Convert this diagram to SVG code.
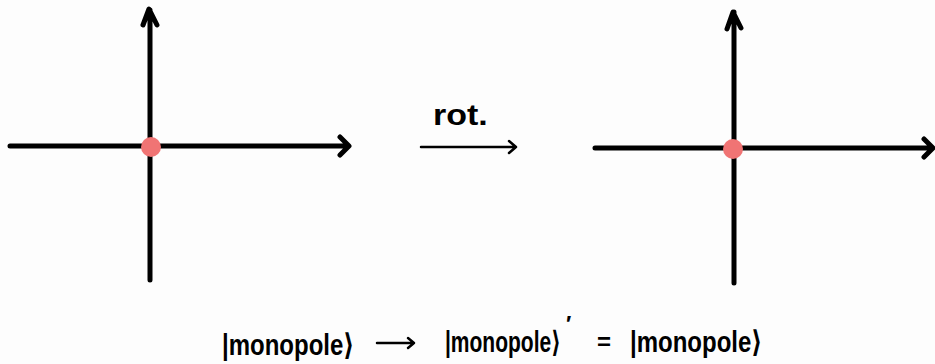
<svg xmlns="http://www.w3.org/2000/svg" width="935" height="364" viewBox="0 0 935 364">
<style>
.ax{stroke:#000;stroke-width:5;fill:none;stroke-linecap:round;stroke-linejoin:round}
.thin{stroke-width:2.5}
.dot{fill:#f07474}
.t{font-family:"Liberation Sans","DejaVu Sans",sans-serif;font-weight:bold;fill:#000}
</style>
<rect width="935" height="364" fill="#fdfdfd"/>
<g id="left-axes">
<path class="ax" d="M10 146 H348 M340 137 L349 146 L340 155"/>
<path class="ax" d="M150 280 V10 M143 25 L149 9 L157 25"/>
<circle class="dot" cx="151" cy="147" r="10"/>
</g>
<g id="right-axes">
<path class="ax" d="M595 148 H932 M924 139 L933 148 L924 157"/>
<path class="ax" d="M734 283 V12 M727 29 L733 12 L741 28"/>
<circle class="dot" cx="733" cy="149" r="10"/>
</g>
<g id="connectors">
<path class="ax thin" d="M421 147 H516 M509 141 L516 147 L509 153"/>
<path class="ax thin" d="M377 343 H414 M408 338 L414 343 L408 348"/>
</g>
<g id="rot-label">
<text class="t" transform="translate(433 125) scale(1 0.85)" font-size="34">rot.</text>
</g>
<g id="equation">
<text class="t" transform="translate(222 355) scale(1 1.25)" font-size="24">|monopole⟩</text>
<text class="t" transform="translate(445 352) scale(1 1.4)" font-size="21">|monopole⟩</text>
<text class="t" x="566" y="331" font-size="22">′</text>
<text class="t" x="597" y="350" font-size="24">=</text>
<text class="t" transform="translate(630 352) scale(1 1.25)" font-size="24">|monopole⟩</text>
</g>
</svg>
